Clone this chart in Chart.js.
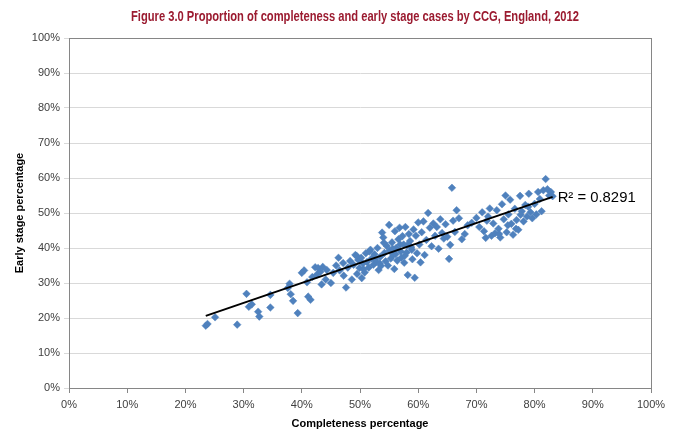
<!DOCTYPE html>
<html>
<head>
<meta charset="utf-8">
<script src="https://cdn.jsdelivr.net/npm/chart.js@4.4.1/dist/chart.umd.min.js"></script>
<style>
  html, body { margin: 0; padding: 0; background: #ffffff; }
  #wrap { position: relative; width: 678px; height: 432px; }
</style>
</head>
<body>
<div id="wrap"><canvas id="c" width="678" height="432"></canvas></div>
<script>
// ---- Data (percent values) ----
const chartTitle = "Figure 3.0 Proportion of completeness and early stage cases by CCG, England, 2012";
const xAxisTitle = "Completeness percentage";
const yAxisTitle = "Early stage percentage";
const rSquaredLabel = "R² = 0.8291";

const completeness = [
  23.5,23.8,25.1,28.9,30.5,30.9,31.4,32.5,32.7,34.6,34.6,37.6,37.9,38.1,38.5,39.3,
  40.0,40.4,40.9,41.1,41.5,41.8,42.3,42.8,42.6,43.2,43.6,43.4,44.1,44.3,45.0,45.4,
  45.9,46.3,46.5,47.1,47.2,47.6,47.9,48.3,48.6,48.9,49.2,49.5,49.7,49.9,
  50.2,50.3,50.5,50.8,51.0,51.2,51.5,51.8,52.0,52.3,52.5,52.8,53.0,53.2,53.5,53.6,
  53.8,54.0,54.2,54.4,54.6,54.8,55.0,55.1,55.3,55.5,55.7,55.9,56.0,56.2,56.4,56.6,
  56.8,57.0,57.1,57.3,57.5,57.6,57.8,58.0,58.2,58.4,58.6,58.8,59.0,59.2,59.4,59.6,
  59.8,60.0,60.2,60.4,60.6,60.9,61.1,61.4,61.7,62.0,62.3,62.6,62.9,63.2,63.5,63.8,
  64.1,64.4,64.7,65.0,65.3,65.5,65.8,66.0,66.3,66.6,67.0,67.5,68.0,68.5,69.2,
  70.0,70.5,71.0,71.3,71.6,72.0,72.3,72.6,72.9,73.2,73.5,73.8,74.1,74.4,74.7,75.0,
  75.2,75.5,75.8,76.0,76.3,76.6,76.9,77.2,77.5,77.8,78.1,78.4,78.7,79.0,79.3,79.6,
  80.0,80.3,80.6,80.9,81.2,81.5,81.9,82.2,82.5,82.8,83.1,
  51.6,52.6,54.1,55.6,56.9,57.7,58.9,53.4,56.1,58.1,50.6,49.4,73.9,75.4,76.8,71.8,77.6,78.9
];
const earlyStage = [
  17.8,18.3,20.2,18.1,26.9,23.2,23.9,21.8,20.4,26.6,23.0,28.6,29.8,26.8,24.9,21.4,
  32.9,33.6,30.2,26.1,25.2,31.7,34.5,34.3,32.4,33.2,34.6,29.6,31.0,33.7,30.0,32.9,
  35.0,37.2,33.6,35.7,32.1,28.7,34.4,36.3,31.0,35.2,38.0,32.6,36.6,34.3,
  37.2,31.4,35.6,33.0,38.5,36.0,34.4,39.5,37.0,35.2,38.2,36.1,40.0,33.7,37.5,34.9,
  44.4,43.0,38.6,36.2,40.6,35.0,46.6,39.3,37.0,41.6,38.0,34.0,44.8,40.0,36.4,42.5,
  45.8,39.0,37.2,43.4,41.0,35.8,46.0,38.7,32.3,44.0,42.0,40.2,36.8,45.3,31.5,43.5,
  38.5,47.3,41.0,35.9,44.5,47.6,38.0,42.3,50.0,45.8,40.5,47.0,43.5,46.0,39.8,48.2,
  44.3,42.7,46.8,43.2,36.9,40.9,57.2,47.8,44.6,50.8,48.5,42.5,44.0,46.5,47.2,
  48.6,46.0,50.2,44.8,42.9,49.0,51.3,43.5,47.0,44.2,50.8,45.5,43.0,52.5,48.2,55.0,
  44.5,49.6,53.8,46.9,43.8,51.2,48.0,45.2,54.9,50.5,47.6,52.3,49.0,55.5,50.2,48.5,
  52.6,49.6,56.0,54.0,50.5,56.5,59.7,56.8,55.0,56.0,54.8,
  39.0,36.8,41.5,39.8,41.0,37.8,39.5,35.6,38.2,40.8,33.9,37.8,44.0,46.5,45.5,47.8,49.5,51.8
];
// Excel linear trendline, endpoints
const trendX = [23.5, 83.1];
const trendY = [20.6, 54.6];
const tickValues = [0,10,20,30,40,50,60,70,80,90,100];

// ---- Build chart ----
const points = completeness.map((x, i) => ({ x: x, y: earlyStage[i] }));
const trend = trendX.map((x, i) => ({ x: x, y: trendY[i] }));

const FONT = '"Liberation Sans", Arial, sans-serif';

const framePlugin = {
  id: 'frame',
  beforeDatasetsDraw(chart) {
    const a = chart.chartArea, ctx = chart.ctx;
    ctx.save();
    ctx.strokeStyle = '#868686';
    ctx.lineWidth = 1;
    ctx.strokeRect(Math.round(a.left) + 0.5, Math.round(a.top) + 0.5,
                   Math.round(a.right - a.left), Math.round(a.bottom - a.top));
    ctx.restore();
  }
};

const labelsPlugin = {
  id: 'labels',
  afterDraw(chart) {
    const ctx = chart.ctx;
    const xs = chart.scales.x, ys = chart.scales.y;
    ctx.save();
    // Title (narrow, like Calibri bold)
    ctx.fillStyle = '#9B1B30';
    ctx.font = 'bold 15px ' + FONT;
    ctx.textAlign = 'center';
    ctx.textBaseline = 'middle';
    ctx.fillText(chartTitle, 355, 17, 448);
    // R squared label next to trendline end
    const px = xs.getPixelForValue(trendX[1]);
    const py = ys.getPixelForValue(trendY[1]);
    ctx.fillStyle = '#000000';
    ctx.font = '15px ' + FONT;
    ctx.textAlign = 'left';
    ctx.fillText(rSquaredLabel, px + 5, py + 1, 78);
    ctx.restore();
  }
};

new Chart(document.getElementById('c'), {
  data: {
    datasets: [
      {
        type: 'line',
        data: trend,
        borderColor: '#000000',
        borderWidth: 2,
        pointRadius: 0,
        fill: false,
        order: 0
      },
      {
        type: 'scatter',
        data: points,
        pointStyle: 'rectRot',
        pointRadius: 3.8,
        pointBackgroundColor: '#4F81BD',
        pointBorderColor: '#4F81BD',
        pointBorderWidth: 0.5,
        order: 1
      }
    ]
  },
  options: {
    responsive: false,
    animation: false,
    events: [],
    layout: { padding: { top: 38, right: 27, left: 0, bottom: 0 } },
    plugins: {
      legend: { display: false },
      tooltip: { enabled: false },
      title: { display: false }
    },
    scales: {
      x: {
        type: 'linear',
        min: 0, max: 100,
        afterBuildTicks(scale) { scale.ticks = tickValues.map(v => ({ value: v })); },
        afterFit(scale) { scale.height = 44; },
        grid: { drawOnChartArea: false, drawTicks: true, tickLength: 5, color: '#868686' },
        border: { display: true, color: '#868686' },
        ticks: {
          padding: 5,
          color: '#404040',
          font: { family: FONT, size: 11 },
          callback: v => v + '%'
        },
        title: {
          display: true,
          text: xAxisTitle,
          color: '#000000',
          font: { family: FONT, size: 11, weight: 'bold' },
          padding: { top: 2, bottom: 1 }
        }
      },
      y: {
        type: 'linear',
        min: 0, max: 100,
        afterBuildTicks(scale) { scale.ticks = tickValues.map(v => ({ value: v })); },
        afterFit(scale) { scale.width = 69; },
        grid: { drawTicks: true, tickLength: 5, color: '#d9d9d9' },
        border: { display: true, color: '#868686' },
        ticks: {
          padding: 4,
          color: '#404040',
          font: { family: FONT, size: 11 },
          callback: v => v + '%'
        },
        title: {
          display: true,
          text: yAxisTitle,
          color: '#000000',
          font: { family: FONT, size: 11, weight: 'bold' },
          padding: { top: 13, bottom: 0 }
        }
      }
    }
  },
  plugins: [framePlugin, labelsPlugin]
});
</script>
</body>
</html>
